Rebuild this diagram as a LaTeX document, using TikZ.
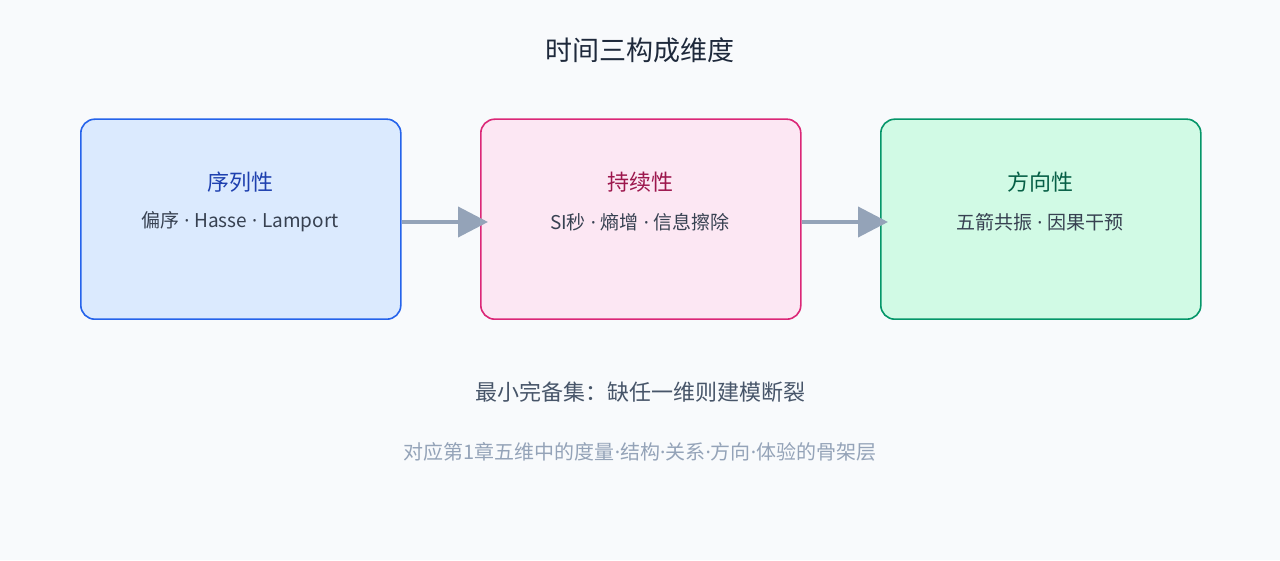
\documentclass[tikz,border=0pt]{standalone}
\usepackage{fontspec}
\setmainfont{Noto Sans CJK SC}
\newfontfamily\lat{Noto Sans}
\newcommand{\dt}{{\lat\ ·\ }}
\newcommand{\dd}{{\lat ·}}
\usetikzlibrary{arrows.meta}
\definecolor{bg}{HTML}{F8FAFC}
\definecolor{bfill}{HTML}{DBEAFE}\definecolor{bdraw}{HTML}{2563EB}\definecolor{btxt}{HTML}{1E40AF}
\definecolor{pfill}{HTML}{FCE7F3}\definecolor{pdraw}{HTML}{DB2777}\definecolor{ptxt}{HTML}{9D174D}
\definecolor{gfill}{HTML}{D1FAE5}\definecolor{gdraw}{HTML}{059669}\definecolor{gtxt}{HTML}{065F46}
\definecolor{sub}{HTML}{374151}\definecolor{arr}{HTML}{94A3B8}\definecolor{note}{HTML}{475569}
\definecolor{ttl}{HTML}{1E293B}
\begin{document}
\begin{tikzpicture}[x=1pt,y=1pt,
  box/.style={draw,line width=1.6pt,rounded corners=14pt,minimum width=320pt,minimum height=200pt,anchor=south west},
  head/.style={font=\fontsize{22}{26}\selectfont},
  sub/.style={font=\fontsize{19}{22}\selectfont,text=sub},
  link/.style={draw=arr,line width=4pt,-{Triangle[length=30pt,width=30pt]}}]
\fill[bg] (0,0) rectangle (1280,560);
\node[font=\fontsize{27}{30}\selectfont,text=ttl] (title) at (640,510) {时间三构成维度};
\node[box,fill=bfill,draw=bdraw] (a) at (80,240) {};
\node[box,fill=pfill,draw=pdraw] (b) at (480,240) {};
\node[box,fill=gfill,draw=gdraw] (c) at (880,240) {};
\node[head,text=btxt] (at) at (240,378) {序列性};
\node[sub] (as) at (240,338) {偏序\dt Hasse\dt Lamport};
\node[head,text=ptxt] (bt) at (640,378) {持续性};
\node[sub] (bs) at (640,338) {SI秒\dt 熵增\dt 信息擦除};
\node[head,text=gtxt] (ct) at (1040,378) {方向性};
\node[sub] (cs) at (1040,338) {五箭共振\dt 因果干预};
\draw[link] (a.east|-as) -- ([xshift=8pt]b.west|-bs);
\draw[link] (b.east|-bs) -- ([xshift=8pt]c.west|-cs);
\node[font=\fontsize{22}{24}\selectfont,text=note] (n1) at (640,168) {最小完备集：缺任一维则建模断裂};
\node[font=\fontsize{20}{22}\selectfont,text=arr] (n2) at (640,108) {对应第1章五维中的度量\dd 结构\dd 关系\dd 方向\dd 体验的骨架层};
\end{tikzpicture}
\end{document}
